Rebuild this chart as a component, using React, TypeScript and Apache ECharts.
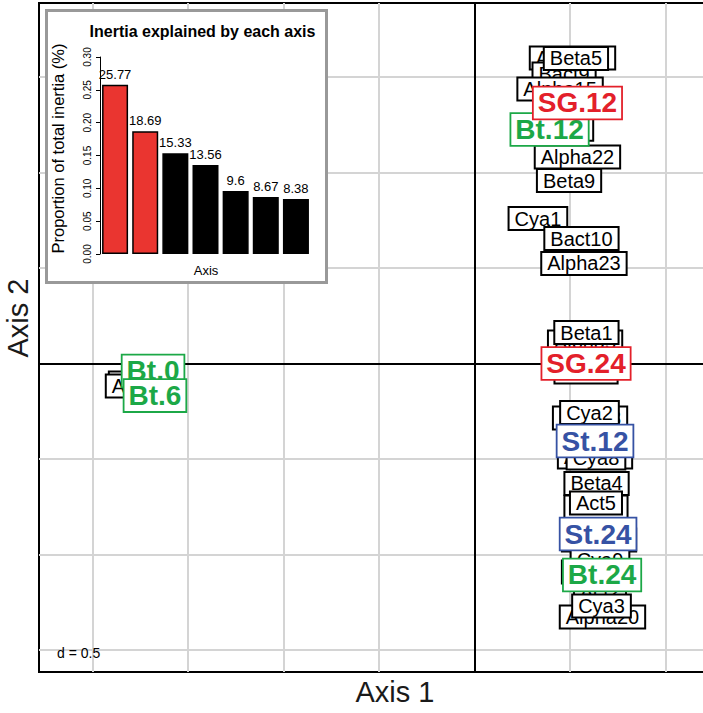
import React, { useEffect, useRef } from "react";
import * as echarts from "echarts";

// ---- Data: variable labels (ade4 s.label style) ----
const varNames = [
  "Alpha13", "Bact9", "Beta5", "Alpha15", "Alpha7", "Alpha22", "Beta9", "Cya1", "Bact10", "Alpha23",
  "Alpha5", "Bact2", "Beta1", "Alpha8", "Cya2", "Alpha3", "Cya8", "Beta4", "Bact3", "Act5",
  "Alpha6", "Cya9", "Alpha2", "Act2", "Alpha20", "Cya3", "Alpha4", "Alpha9",
];
const varX = [
  0.513, 0.469, 0.531, 0.448, 0.427, 0.539, 0.495, 0.332, 0.56, 0.573,
  0.579, 0.584, 0.586, 0.605, 0.602, 0.631, 0.636, 0.639, 0.636, 0.636,
  0.652, 0.657, 0.652, 0.657, 0.67, 0.665, -1.72, -1.736,
];
const varY = [
  1.6, 1.516, 1.597, 1.437, 1.227, 1.081, 0.958, 0.759, 0.654, 0.524,
  0.113, -0.045, 0.162, -0.285, -0.257, -0.49, -0.495, -0.628, -0.751, -0.731,
  -0.924, -1.029, -1.092, -1.196, -1.327, -1.27, -0.102, -0.118,
];

// ---- Data: group labels ----
const groupNames = ["Bt.0", "Bt.6", "Bt.12", "SG.12", "SG.24", "St.12", "St.24", "Bt.24"];
const groupX = [-1.683, -1.673, 0.393, 0.539, 0.584, 0.631, 0.647, 0.668];
const groupY = [-0.039, -0.168, 1.225, 1.364, 0.0, -0.406, -0.893, -1.107];

// ---- Grid (d = 0.5) ----
const gridTicksX = [-2, -1.5, -1, -0.5, 0.5, 1];
const gridTicksY = [-1.5, -1, -0.5, 0.5, 1, 1.5];
const gridStep = "d = 0.5";

// ---- Inset: inertia explained ----
const axisIndex = ["1", "2", "3", "4", "5", "6", "7"];
const inertiaPct = [25.77, 18.69, 15.33, 13.56, 9.6, 8.67, 8.38];
const inertiaTicks = [0, 0.3, 0.05];
const keptAxes = 2;

// ---- Styles ----
const FONT = "'Liberation Sans', Arial, Helvetica, sans-serif";
const groupColor: Record<string, string> = { Bt: "#1CA847", SG: "#E3202A", St: "#3652A4" };
const barRed = "#EA3530";

const X_MIN = -2.2801;
const X_MAX = 1.2487;
const Y_MIN = -1.6152;
const Y_MAX = 1.8874;

export default function App() {
  const mainRef = useRef<HTMLDivElement>(null);
  const insetRef = useRef<HTMLDivElement>(null);

  useEffect(() => {
    const main = echarts.init(mainRef.current!, null, { renderer: "svg" });
    const inset = echarts.init(insetRef.current!, null, { renderer: "svg" });

    const varData = varNames.map((n, i) => ({ name: n, value: [varX[i], varY[i]] }));
    const groupData = groupNames.map((n, i) => {
      const c = groupColor[n.split(".")[0]];
      return {
        name: n,
        value: [groupX[i], groupY[i]],
        label: { color: c, borderColor: c },
      };
    });

    main.setOption({
      animation: false,
      grid: {
        left: 39,
        top: 3,
        width: 674,
        height: 669,
        show: true,
        borderColor: "#000",
        borderWidth: 2,
        backgroundColor: "transparent",
      },
      xAxis: {
        type: "value",
        min: X_MIN,
        max: X_MAX,
        axisLine: { show: false },
        axisTick: { show: false },
        axisLabel: { show: false },
        splitLine: { show: false },
      },
      yAxis: {
        type: "value",
        min: Y_MIN,
        max: Y_MAX,
        axisLine: { show: false },
        axisTick: { show: false },
        axisLabel: { show: false },
        splitLine: { show: false },
      },
      graphic: [
        {
          type: "text",
          x: 395,
          y: 692,
          style: {
            text: "Axis 1",
            font: `29px ${FONT}`,
            fill: "#1a1a1a",
            textAlign: "center",
            textVerticalAlign: "middle",
          },
        },
        {
          type: "text",
          x: 18,
          y: 318,
          rotation: Math.PI / 2,
          style: {
            text: "Axis 2",
            font: `29px ${FONT}`,
            fill: "#1a1a1a",
            textAlign: "center",
            textVerticalAlign: "middle",
          },
        },
        {
          type: "text",
          x: 57,
          y: 653,
          z: 100,
          style: {
            text: gridStep,
            font: `14px ${FONT}`,
            fill: "#000",
            textAlign: "left",
            textVerticalAlign: "middle",
          },
        },
      ],
      series: [
        {
          type: "scatter",
          data: [],
          silent: true,
          z: 1,
          markLine: {
            z: 1,
            silent: true,
            symbol: "none",
            label: { show: false },
            lineStyle: { color: "#D4D4D4", width: 2, type: "solid", opacity: 1 },
            data: [
              ...gridTicksX.map((v) => ({ xAxis: v })),
              ...gridTicksY.map((v) => ({ yAxis: v })),
            ],
          },
        },
        {
          type: "scatter",
          data: [],
          silent: true,
          z: 2,
          markLine: {
            z: 2,
            silent: true,
            symbol: "none",
            label: { show: false },
            lineStyle: { color: "#000", width: 2, type: "solid", opacity: 1 },
            data: [{ xAxis: 0 }, { yAxis: 0 }],
          },
        },
        {
          type: "scatter",
          z: 20,
          symbolSize: 1,
          itemStyle: { color: "rgba(0,0,0,0)", opacity: 1 },
          emphasis: { disabled: true },
          data: varData,
          label: {
            show: true,
            position: "inside",
            formatter: "{b}",
            fontFamily: FONT,
            fontSize: 20,
            lineHeight: 20,
            color: "#000",
            opacity: 1,
            backgroundColor: "#fff",
            borderColor: "#000",
            borderWidth: 2,
            padding: [1, 5, 0, 5],
          },
          labelLayout: { hideOverlap: false },
        },
        {
          type: "scatter",
          z: 30,
          symbolSize: 1,
          itemStyle: { color: "rgba(0,0,0,0)", opacity: 1 },
          emphasis: { disabled: true },
          data: groupData,
          label: {
            show: true,
            position: "inside",
            formatter: "{b}",
            fontFamily: FONT,
            fontWeight: "bold",
            fontSize: 28,
            lineHeight: 28,
            opacity: 1,
            backgroundColor: "#fff",
            borderWidth: 1.8,
            padding: [2, 4, 1, 4],
          },
          labelLayout: { hideOverlap: false },
        },
      ],
    });

    inset.setOption({
      animation: false,
      grid: { left: 52, top: 45, width: 211, height: 197 },
      xAxis: {
        type: "category",
        data: axisIndex,
        axisLine: { show: false },
        axisTick: { show: false },
        axisLabel: { show: false },
      },
      yAxis: {
        type: "value",
        min: inertiaTicks[0],
        max: inertiaTicks[1],
        interval: inertiaTicks[2],
        axisLine: { show: true, lineStyle: { color: "#000", width: 1 } },
        axisTick: { show: true, length: 4, lineStyle: { color: "#000", width: 1 } },
        axisLabel: {
          rotate: 90,
          fontSize: 10,
          fontFamily: FONT,
          color: "#000",
          margin: 8,
          formatter: (v: number) => v.toFixed(2),
        },
        splitLine: { show: false },
      },
      graphic: [
        {
          type: "text",
          x: 154.5,
          y: 19.5,
          style: {
            text: "Inertia explained by each axis",
            font: `bold 16px ${FONT}`,
            fill: "#000",
            textAlign: "center",
            textVerticalAlign: "middle",
          },
        },
        {
          type: "text",
          x: 10,
          y: 136.5,
          rotation: Math.PI / 2,
          style: {
            text: "Proportion of total inertia (%)",
            font: `16.5px ${FONT}`,
            fill: "#000",
            textAlign: "center",
            textVerticalAlign: "middle",
          },
        },
        {
          type: "text",
          x: 158,
          y: 258,
          style: {
            text: "Axis",
            font: `13px ${FONT}`,
            fill: "#000",
            textAlign: "center",
            textVerticalAlign: "middle",
          },
        },
      ],
      series: [
        {
          type: "bar",
          barWidth: 26,
          data: inertiaPct.map((p, i) => ({
            value: p / 100,
            itemStyle: {
              color: i < keptAxes ? barRed : "#000",
              borderColor: "#000",
              borderWidth: 1.5,
            },
          })),
          label: {
            show: true,
            position: "top",
            distance: 4,
            fontSize: 13,
            fontFamily: FONT,
            color: "#000",
            formatter: (p: any) => String(inertiaPct[p.dataIndex]),
          },
        },
      ],
    });

    return () => {
      main.dispose();
      inset.dispose();
    };
  }, []);

  return (
    <div style={{ position: "fixed", left: 0, top: 0, width: 703, height: 713, background: "#fff", overflow: "hidden" }}>
      <div ref={mainRef} style={{ position: "absolute", left: 0, top: 0, width: 720, height: 713 }} />
      <div
        style={{
          position: "absolute",
          left: 45,
          top: 9,
          width: 283,
          height: 275,
          border: "3px solid #999",
          boxSizing: "border-box",
          background: "#fff",
        }}
      >
        <div ref={insetRef} style={{ width: 277, height: 269 }} />
      </div>
    </div>
  );
}
